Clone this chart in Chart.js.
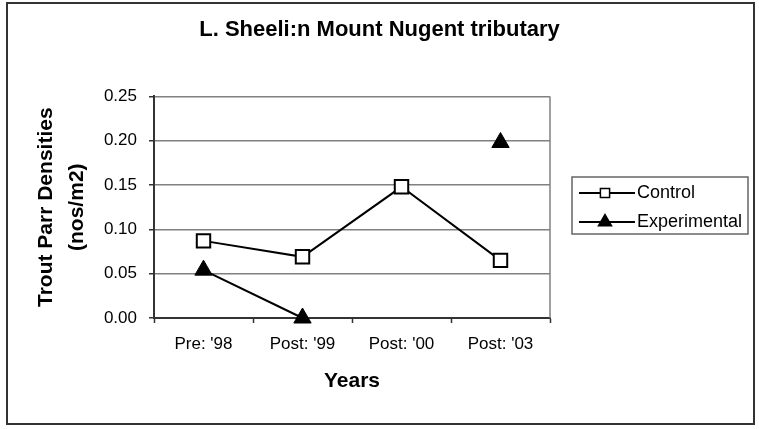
<!DOCTYPE html>
<html>
<head>
<meta charset="utf-8">
<script src="https://cdn.jsdelivr.net/npm/chart.js@4.4.0/dist/chart.umd.min.js"></script>
<style>
  body { margin: 0; background: #fff; }
  #wrap { width: 759px; height: 429px; }
</style>
</head>
<body>
<div id="wrap"><canvas id="chart" width="759" height="429"></canvas></div>
<script>
const categories = ["Pre: '98", "Post: '99", "Post: '00", "Post: '03"];
const controlValues = [0.087, 0.069, 0.148, 0.065];
const experimentalValues = [0.054, 0.0, null, 0.198];
const yTickLabels = ["0.00", "0.05", "0.10", "0.15", "0.20", "0.25"];

const FONT = "'Liberation Sans', Arial, sans-serif";

// white background + outer frame
const framePlugin = {
    id: "frame",
    beforeDraw(chart) {
        const ctx = chart.ctx;
        ctx.save();
        ctx.fillStyle = "#fff";
        ctx.fillRect(0, 0, chart.width, chart.height);
        ctx.strokeStyle = "#333";
        ctx.lineWidth = 2;
        ctx.strokeRect(7, 3, 747, 421);
        ctx.restore();
    },
    afterDraw(chart) {
        // right edge of plot area
        const a = chart.chartArea;
        const ctx = chart.ctx;
        ctx.save();
        ctx.strokeStyle = "#808080";
        ctx.lineWidth = 1.5;
        ctx.beginPath();
        ctx.moveTo(a.right, a.top);
        ctx.lineTo(a.right, a.bottom);
        ctx.stroke();
        ctx.restore();
    }
};

function drawMarker(ctx, style, x, y, r) {
    if (style === "rect") {
        const s = Math.SQRT1_2 * r;
        ctx.rect(x - s, y - s, 2 * s, 2 * s);
    } else {
        ctx.moveTo(x, y - r);
        ctx.lineTo(x + r * 0.866, y + r / 2);
        ctx.lineTo(x - r * 0.866, y + r / 2);
        ctx.closePath();
    }
}

// boxed legend on the right, line through marker like the original
const legendPlugin = {
    id: "boxLegend",
    afterDraw(chart) {
        const ctx = chart.ctx;
        const bx = 572, by = 177, bw = 176, bh = 57;
        ctx.save();
        ctx.strokeStyle = "#666";
        ctx.lineWidth = 1.5;
        ctx.strokeRect(bx, by, bw, bh);
        ctx.font = "18px " + FONT;
        ctx.textBaseline = "middle";
        chart.data.datasets.forEach((ds, i) => {
            const y = by + 16 + i * 29;
            ctx.strokeStyle = ds.borderColor;
            ctx.lineWidth = 2;
            ctx.beginPath();
            ctx.moveTo(bx + 7, y);
            ctx.lineTo(bx + 63, y);
            ctx.stroke();
            ctx.fillStyle = ds.pointBackgroundColor;
            ctx.strokeStyle = "#000";
            ctx.lineWidth = 1.5;
            ctx.beginPath();
            drawMarker(ctx, ds.pointStyle, bx + 33, y, ds.legendRadius);
            ctx.fill();
            ctx.stroke();
            ctx.fillStyle = "#000";
            ctx.fillText(ds.label, bx + 65, y);
        });
        ctx.restore();
    }
};

new Chart(document.getElementById("chart"), {
    type: "line",
    data: {
        labels: categories,
        datasets: [{
            label: "Control",
            data: controlValues,
            borderColor: "#000",
            borderWidth: 2,
            pointStyle: "rect",
            pointRadius: 9.5,
            pointBorderWidth: 2,
            pointBackgroundColor: "#fff",
            pointBorderColor: "#000",
            legendRadius: 6.5,
            tension: 0,
            clip: false
        }, {
            label: "Experimental",
            data: experimentalValues,
            borderColor: "#000",
            borderWidth: 2,
            pointStyle: "triangle",
            pointRadius: 10,
            pointBorderWidth: 1,
            pointBackgroundColor: "#000",
            pointBorderColor: "#000",
            legendRadius: 7.5,
            tension: 0,
            spanGaps: false,
            clip: false
        }]
    },
    options: {
        responsive: false,
        animation: false,
        layout: { padding: 0 },
        plugins: {
            legend: { display: false },
            tooltip: { enabled: false },
            title: {
                display: true,
                text: "L. Sheeli:n Mount Nugent tributary",
                color: "#000",
                font: { family: FONT, size: 22, weight: "bold" },
                padding: { top: 17, bottom: 53 }
            }
        },
        scales: {
            x: {
                offset: true,
                afterFit: s => { s.height = 111; },
                grid: {
                    display: true,
                    offset: true,
                    drawOnChartArea: false,
                    tickLength: 5,
                    tickColor: "#333",
                    tickWidth: 1.5
                },
                border: { color: "#333", width: 2 },
                ticks: {
                    color: "#000",
                    padding: 11,
                    font: { family: FONT, size: 17 }
                },
                title: {
                    display: true,
                    text: "Years",
                    color: "#000",
                    font: { family: FONT, size: 21, weight: "bold" },
                    padding: { top: 0, bottom: 35 }
                }
            },
            y: {
                min: 0,
                max: 0.25,
                afterFit: s => { s.width = 154; },
                grid: {
                    color: "#808080",
                    lineWidth: 1.5,
                    tickLength: 5,
                    tickColor: "#333"
                },
                border: { color: "#333", width: 2 },
                ticks: {
                    stepSize: 0.05,
                    color: "#000",
                    padding: 12,
                    font: { family: FONT, size: 17 },
                    callback: (v, i) => yTickLabels[i]
                },
                title: {
                    display: true,
                    text: ["Trout Parr Densities", "(nos/m2)"],
                    color: "#000",
                    font: { family: FONT, size: 21, weight: "bold", lineHeight: 1.48 },
                    padding: { top: 31, bottom: 0 }
                }
            },
            // empty right axis that only reserves room for the legend
            yRight: {
                position: "right",
                min: 0,
                max: 0.25,
                afterFit: s => { s.width = 209; },
                grid: { display: false },
                border: { display: false },
                ticks: { display: false }
            }
        }
    },
    plugins: [framePlugin, legendPlugin]
});
</script>
</body>
</html>
